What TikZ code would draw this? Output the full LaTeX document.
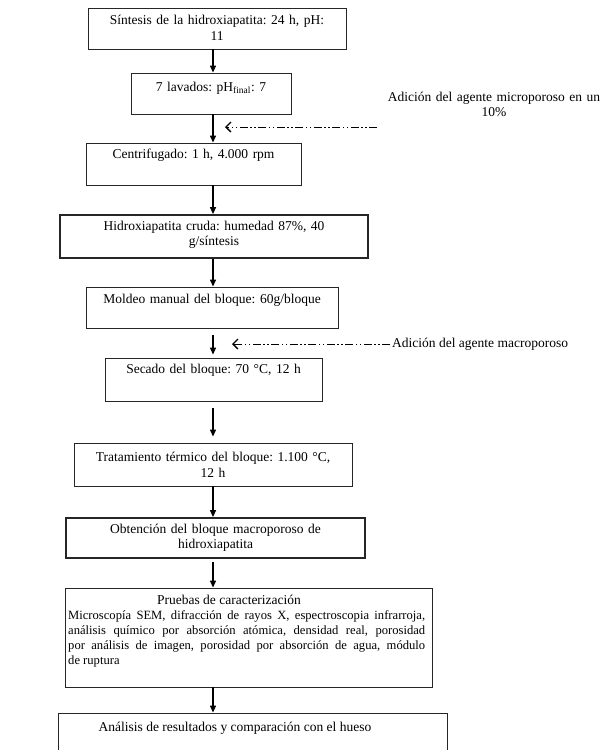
\documentclass[tikz,border=0pt]{standalone}
\usepackage{fontspec}
\setmainfont{Liberation Serif}
\usetikzlibrary{arrows.meta,calc}
\begin{document}
\frenchspacing
\begin{tikzpicture}[x=1pt,y=-1pt,
  box/.style={draw=black!85,line width=0.9pt,rectangle,inner sep=0pt},
  thickbox/.style={box,line width=1.8pt},
  txt/.style={font=\fontsize{13.5}{15.5}\selectfont,align=center,inner sep=0pt,anchor=base},
  arr/.style={line width=1.3pt,-{Triangle[length=7pt,width=6pt]}},
  darr/.style={line width=1pt,dash pattern=on 8pt off 2.5pt on 1.5pt off 2.5pt on 1.5pt off 2.5pt,-{Straight Barb[length=5pt,width=10pt,line width=1.3pt]}}]
\useasboundingbox (0,0) rectangle (609,750);
\fill[white] (0,0) rectangle (609,750);
\coordinate (ax) at (213,0);
% boxes
\node[box,minimum width=258pt,minimum height=41pt] (b1) at (217,28.5) {};
\node[box,minimum width=160pt,minimum height=41pt] (b2) at (211,93.5) {};
\node[box,minimum width=215pt,minimum height=42pt] (b3) at (193.5,164) {};
\node[thickbox,minimum width=308pt,minimum height=43pt] (b4) at (214,236.5) {};
\node[box,minimum width=252pt,minimum height=41pt] (b5) at (212,307.5) {};
\node[box,minimum width=217pt,minimum height=43pt] (b6) at (213.5,379.5) {};
\node[box,minimum width=278pt,minimum height=43pt] (b7) at (213,464.5) {};
\node[thickbox,minimum width=299pt,minimum height=40pt] (b8) at (215.5,538) {};
\node[box,minimum width=367pt,minimum height=99pt] (b9) at (248.5,637.5) {};
\node[box,minimum width=389pt,minimum height=50pt] (b10) at (252.5,738) {};
% texts
\node[txt,text width=255pt] (t1) at ($(b1.north)+(0,17)$) {Síntesis de la hidroxiapatita: 24 h, pH:\\11};
\node[txt,text width=155pt] (t2) at ($(b2.north)+(0,19)$) {7 lavados: pH\textsubscript{final}: 7};
\node[txt,text width=210pt] (t3) at ($(b3.north)+(0,16)$) {Centrifugado: 1 h, 4.000 rpm};
\node[txt,text width=300pt] (t4) at ($(b4.north)+(0,16)$) {Hidroxiapatita cruda: humedad 87\%, 40\\g/síntesis};
\node[txt,text width=248pt] (t5) at ($(b5.north)+(0,17)$) {Moldeo manual del bloque: 60g/bloque};
\node[txt,text width=212pt] (t6) at ($(b6.north)+(0,16)$) {Secado del bloque: 70 °C, 12 h};
\node[txt,text width=274pt] (t7) at ($(b7.north)+(0,19)$) {Tratamiento térmico del bloque: 1.100 °C,\\12 h};
\node[txt,text width=295pt] (t8) at ($(b8.north)+(0,16)$) {Obtención del bloque macroporoso de\\hidroxiapatita};
\node[txt] (t9a) at (229,604) {Pruebas de caracterización};
\node[txt,font=\fontsize{12.6}{15}\selectfont,anchor=base west,text width=357pt,align=justify] (t9b) at (68,619) {\hyphenpenalty=10000\exhyphenpenalty=10000 Microscopía SEM, difracción de rayos X, espectroscopia infrarroja,\linebreak análisis químico por absorción atómica, densidad real, porosidad\linebreak por análisis de imagen, porosidad por absorción de agua, módulo\linebreak de ruptura};
\node[txt] (t10) at (235,731) {Análisis de resultados y comparación con el hueso};
\node[txt,text width=240pt] (t11) at (494,101) {Adición del agente microporoso en un\\10\%};
\node[txt,anchor=base west] (t12) at (392,347) {Adición del agente macroporoso};
% solid arrows
\draw[arr] (b1.south -| ax) -- (b2.north -| ax);
\draw[arr] (b2.south -| ax) -- (b3.north -| ax);
\draw[arr] (b3.south -| ax) -- (b4.north -| ax);
\draw[arr] (b4.south -| ax) -- (b5.north -| ax);
\draw[arr,shorten <=7pt,shorten >=3pt] (b5.south -| ax) -- (b6.north -| ax);
\draw[arr,shorten <=7pt,shorten >=6pt] (b6.south -| ax) -- (b7.north -| ax);
\draw[arr] (b7.south -| ax) -- (b8.north -| ax);
\draw[arr,shorten <=3pt] (b8.south -| ax) -- (b9.north -| ax);
\draw[arr] (b9.south -| ax) -- (b10.north -| ax);
% dashed arrows
\coordinate (d1s) at (377,127);
\coordinate (d1e) at (225,127);
\draw[darr] (d1s) -- (d1e);
\coordinate (d2s) at (390,344);
\coordinate (d2e) at (232,344);
\draw[darr] (d2s) -- (d2e);
\end{tikzpicture}
\end{document}
